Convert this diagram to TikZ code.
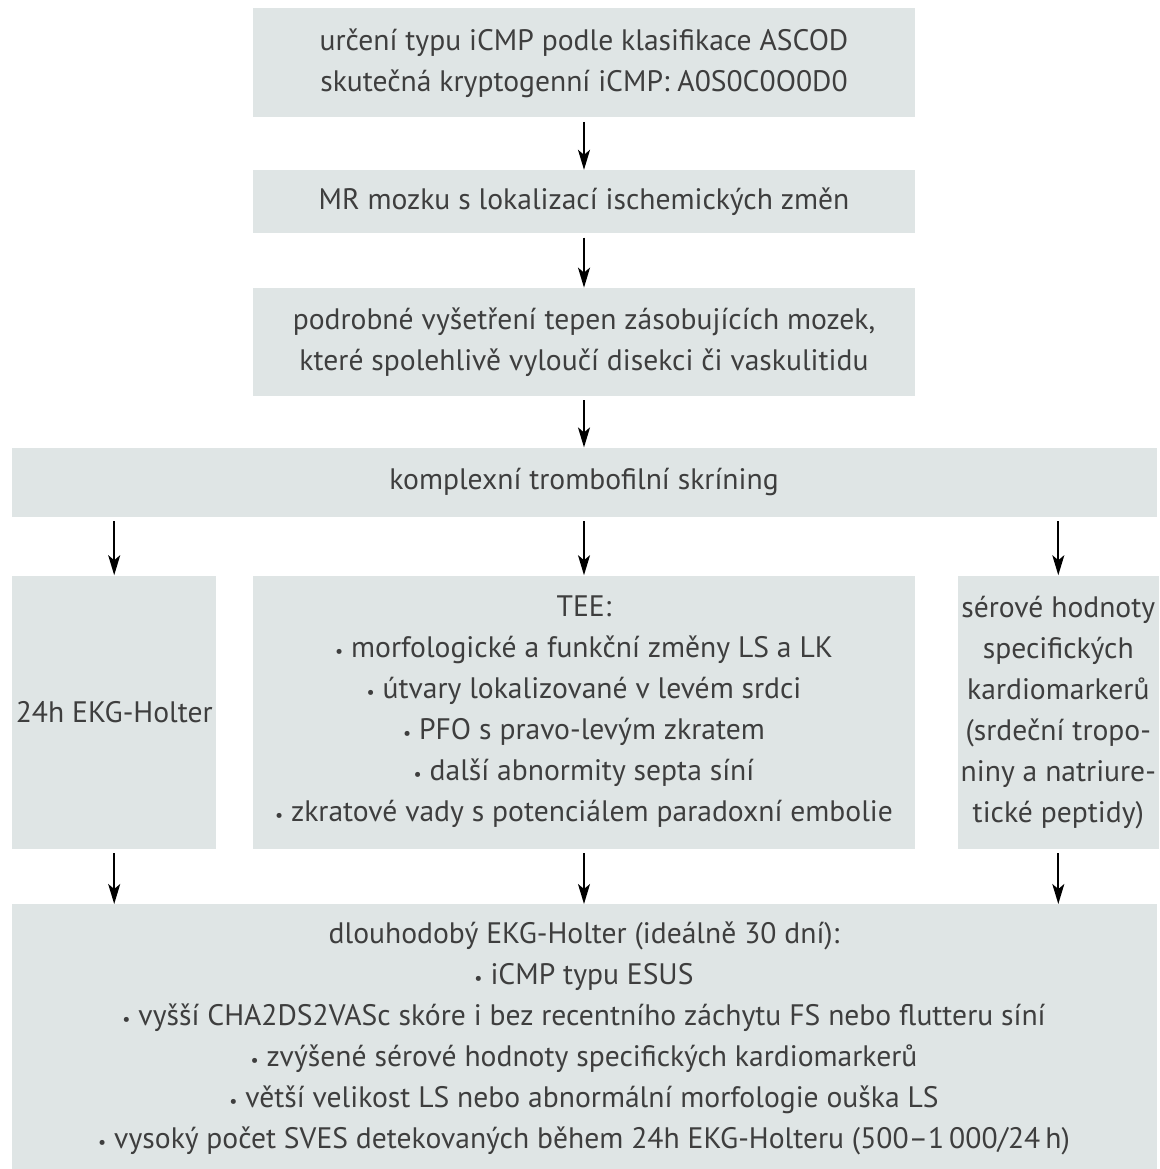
\documentclass[tikz,border=0pt]{standalone}
\usepackage{fontspec}
\setmainfont{PT Sans}
\usepackage{tikz}
\usetikzlibrary{positioning}
\usetikzlibrary{arrows.meta}
\definecolor{boxfill}{RGB}{223,229,229}
\definecolor{textgray}{RGB}{62,62,62}
\tikzstyle{box}=[fill=boxfill, text=textgray, align=center, inner sep=0pt,
  font=\fontsize{14.8}{20.5}\selectfont]
\tikzstyle{arr}=[-{Stealth[length=10pt, width=6pt, inset=2.5pt]}, line width=0.85pt, shorten <=2pt]
\newcommand{\itm}{{\small\textbullet}\ }

\begin{document}
\begin{tikzpicture}
            \useasboundingbox (0,0) rectangle (580pt,-584.5pt);

            \node[box, minimum width=331pt, minimum height=54.5pt, anchor=north] (b1) at (292pt,-4pt)
              {určení typu iCMP podle klasifikace ASCOD\\skutečná kryptogenní iCMP: A0S0C0O0D0};
            \node[box, minimum width=331pt, minimum height=31.5pt, below=26pt of b1] (b2)
              {MR mozku s lokalizací ischemických změn};
            \node[box, minimum width=331pt, minimum height=54pt, below=27pt of b2] (b3)
              {podrobné vyšetření tepen zásobujících mozek,\\které spolehlivě vyloučí disekci či vaskulitidu};
            \node[box, minimum width=572.5pt, minimum height=34.5pt, below=25.5pt of b3] (b4)
              {komplexní trombofilní skríning};

            % three parallel examinations
            \node[box, minimum width=331pt, minimum height=136.5pt, below=29pt of b4] (tee)
              {TEE:\\
               \itm morfologické a funkční změny LS a LK\\
               \itm útvary lokalizované v levém srdci\\
               \itm PFO s pravo-levým zkratem\\
               \itm další abnormity septa síní\\
               \itm zkratové vady s potenciálem paradoxní embolie};
            \node[box, minimum width=102pt, minimum height=136.5pt, left=18pt of tee] (holter)
              {24h EKG-Holter};
            \node[box, minimum width=100.5pt, minimum height=136.5pt, right=21pt of tee] (markers)
              {sérové hodnoty\\specifických\\kardiomarkerů\\(srdeční tropo-\\niny a natriure-\\tické peptidy)};

            \node[box, minimum width=572.5pt, minimum height=134.5pt, below=27.5pt of tee] (b5)
              {dlouhodobý EKG-Holter (ideálně 30 dní):\\
               \itm iCMP typu ESUS\\
               \itm vyšší CHA2DS2VASc skóre i bez recentního záchytu FS nebo flutteru síní\\
               \itm zvýšené sérové hodnoty specifických kardiomarkerů\\
               \itm větší velikost LS nebo abnormální morfologie ouška LS\\
               \itm vysoký počet SVES detekovaných během 24h EKG-Holteru (500--1\,000/24\,h)};

            \draw[arr] (b1) -- (b2);
            \draw[arr] (b2) -- (b3);
            \draw[arr] (b3) -- (b4);

            \draw[arr] (b4.south -| holter) -- (holter);
            \draw[arr] (b4) -- (tee);
            \draw[arr] (b4.south -| markers) -- (markers);

            \draw[arr] (holter) -- (b5.north -| holter);
            \draw[arr] (tee) -- (b5.north -| tee);
            \draw[arr] (markers) -- (b5.north -| markers);
        \end{tikzpicture}
\end{document}
